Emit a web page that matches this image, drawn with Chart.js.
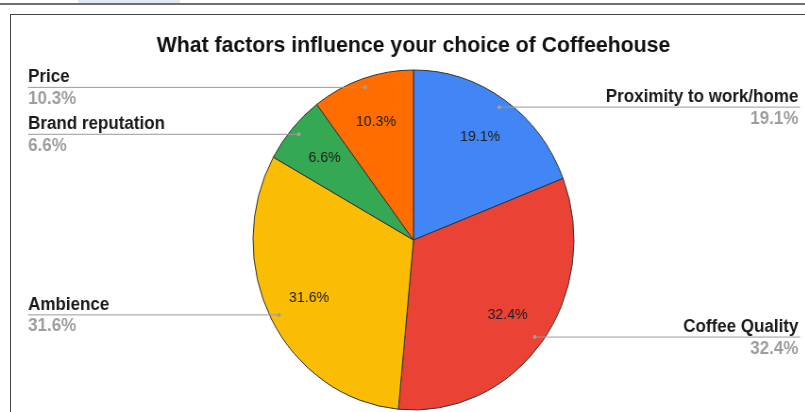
<!DOCTYPE html>
<html>
<head>
<meta charset="utf-8">
<script src="https://cdn.jsdelivr.net/npm/chart.js@4.4.1/dist/chart.umd.min.js"></script>
<style>
  html, body { margin: 0; padding: 0; background: #fff; width: 805px; height: 412px; overflow: hidden; position: relative; }
  #topbar { position: absolute; left: 0; top: 3px; width: 805px; height: 2px; background: #6e6e6e; }
  #tab { position: absolute; left: 78px; top: 0; width: 102px; height: 3px; background: #e2e9f5; }
  #frame { position: absolute; left: 10px; top: 14px; width: 820px; height: 420px; border-top: 1px solid #444; border-left: 1px solid #444; }
  #wrap { position: absolute; left: 0; top: 0; width: 853px; height: 412px; transform: scaleX(0.944); transform-origin: 0 0; }
</style>
</head>
<body>
<div id="topbar"></div>
<div id="tab"></div>
<div id="frame"></div>
<div id="wrap"><canvas id="c" width="853" height="412"></canvas></div>
<script>
// Survey answers: share of respondents per factor (percent)
const titleText = 'What factors influence your choice of Coffeehouse';
const categories = ['Proximity to work/home', 'Coffee Quality', 'Ambience', 'Brand reputation', 'Price'];
const shares = [19.1, 32.4, 31.6, 6.6, 10.3];
const sliceColors = ['#4285F4', '#EA4335', '#FBBC04', '#34A853', '#FF6D01'];

const FONT = '"Liberation Sans", Arial, Helvetica, sans-serif';

// Title, in-slice percentages and outside labels with leader lines
const pieLabels = {
  id: 'pieLabels',
  afterDatasetsDraw(chart) {
    const ctx = chart.ctx;
    const W = chart.width;
    const area = chart.chartArea;
    const meta = chart.getDatasetMeta(0);
    ctx.save();

    ctx.font = 'bold 22.5px ' + FONT;
    ctx.fillStyle = '#111';
    ctx.textAlign = 'center';
    ctx.textBaseline = 'alphabetic';
    ctx.fillText(titleText, (area.left + area.right) / 2, 52);

    meta.data.forEach((arc, i) => {
      const p = arc.getProps(['x', 'y', 'startAngle', 'endAngle', 'outerRadius'], true);
      const mid = (p.startAngle + p.endAngle) / 2;
      const cos = Math.cos(mid), sin = Math.sin(mid);
      const txt = shares[i].toFixed(1) + '%';

      // percentage inside the slice
      ctx.font = '15px ' + FONT;
      ctx.fillStyle = '#1e1e1e';
      ctx.textAlign = 'center';
      ctx.textBaseline = 'middle';
      ctx.fillText(txt, p.x + cos * p.outerRadius * 0.735, p.y + sin * p.outerRadius * 0.735);

      // leader line from a dot near the rim out to the label
      const dx = p.x + cos * p.outerRadius * 0.947;
      const dy = p.y + sin * p.outerRadius * 0.947;
      const right = cos > 0;
      const lineEnd = right ? W - 5.5 : 29.7;
      ctx.strokeStyle = '#9a9a9a';
      ctx.lineWidth = 1;
      ctx.beginPath();
      ctx.moveTo(dx, dy);
      ctx.lineTo(lineEnd, dy);
      ctx.stroke();
      ctx.fillStyle = '#a0a0a0';
      ctx.beginPath();
      ctx.arc(dx, dy, 2, 0, Math.PI * 2);
      ctx.fill();

      // category name and value
      const tx = right ? W - 7.3 : 29.7;
      ctx.textAlign = right ? 'right' : 'left';
      ctx.textBaseline = 'alphabetic';
      ctx.font = 'bold 18px ' + FONT;
      ctx.fillStyle = '#1a1a1a';
      ctx.fillText(categories[i], tx, dy - 5);
      ctx.fillStyle = '#9e9e9e';
      ctx.fillText(txt, tx, dy + 16.5);
    });
    ctx.restore();
  }
};

new Chart(document.getElementById('c'), {
  type: 'pie',
  data: {
    labels: categories,
    datasets: [{
      data: shares,
      backgroundColor: sliceColors,
      borderColor: '#333333',
      borderWidth: 1,
      radius: 170
    }]
  },
  options: {
    responsive: false,
    animation: false,
    layout: { padding: { left: 268, right: 245, top: 70, bottom: 2 } },
    plugins: {
      legend: { display: false },
      title: { display: false },
      tooltip: { enabled: false }
    }
  },
  plugins: [pieLabels]
});
</script>
</body>
</html>
